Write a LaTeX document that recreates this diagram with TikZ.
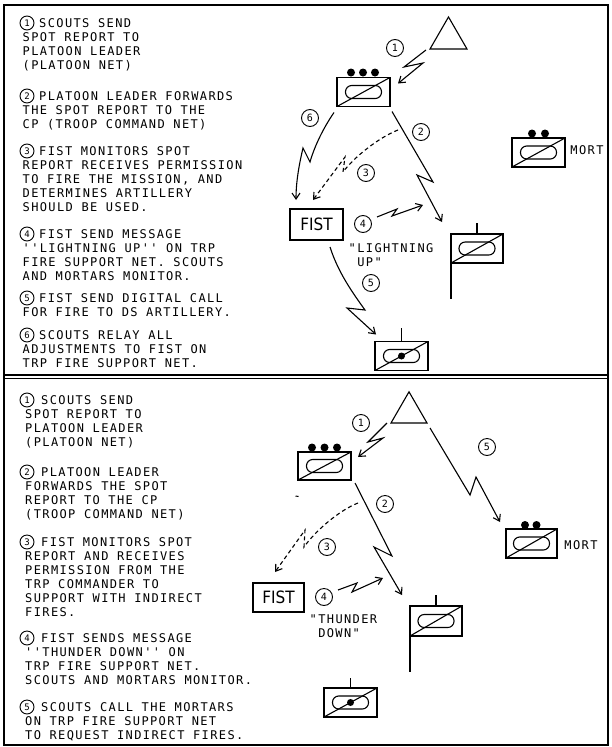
\documentclass[tikz,border=0pt]{standalone}
\usepackage{fontspec}
\setmonofont[LetterSpace=11.5]{DejaVu Sans Mono}
\newfontfamily\fistfont[FakeStretch=0.9]{DejaVu Sans}
\usetikzlibrary{shapes.geometric,arrows.meta,calc}
\tikzset{
  lw/.style={line width=1.1pt},
  symbox/.style={draw, rectangle, line width=1.1pt, minimum width=53pt, minimum height=29pt, inner sep=0pt, outer sep=0pt},
  num/.style={draw, circle, line width=0.9pt, minimum size=17pt, inner sep=0pt, font=\ttfamily\fontsize{10}{10}\selectfont},
  tnum/.style={draw, circle, line width=0.9pt, minimum size=14pt, inner sep=0pt, font=\ttfamily\fontsize{9}{9}\selectfont},
  para/.style={anchor=north west, align=left, inner sep=0pt, font=\ttfamily\fontsize{12}{14}\selectfont},
  lbl/.style={inner sep=0pt, font=\ttfamily\fontsize{12}{12}\selectfont},
  bolt/.style={line width=1.1pt, -{Straight Barb[length=6pt,width=8pt]}, line join=miter},
  dashbolt/.style={bolt, dash pattern=on 4pt off 3pt},
  tri/.style={draw, regular polygon, regular polygon sides=3, inner sep=0pt, outer sep=0pt, line width=1.1pt},
  unitdot/.style={fill, circle, inner sep=0pt, minimum size=8pt},
  fistbox/.style={symbox, font=\fistfont\fontsize{17}{17}\selectfont},
}
\newcommand\unitmark[1]{%
  \draw[lw] (#1.south west) -- (#1.north east);
  \draw[lw, rounded corners=6.2pt] ($(#1.center)+(-18,-6.5)$) rectangle ($(#1.center)+(18,6.5)$);
}
\begin{document}
\begin{tikzpicture}[x=1pt,y=-1pt]
\useasboundingbox (0,0) rectangle (612,747);
\fill[white] (0,0) rectangle (612,747);
\draw[line width=2pt] (4,5) rectangle (608,745);
\draw[line width=2.2pt] (4,375) -- (608,375);
\draw[line width=0.6pt] (4,378.5) -- (608,378.5);

% ---------- top panel text ----------
\node[tnum] (tn1) at (27,23) {1};
\node[para] (tp1) at (22.5,18.5) {\hspace*{16.5pt}SCOUTS SEND\\SPOT REPORT TO\\PLATOON LEADER\\(PLATOON NET)};
\node[tnum] (tn2) at (27,96) {2};
\node[para] (tp2) at (22.5,91.5) {\hspace*{16.5pt}PLATOON LEADER FORWARDS\\THE SPOT REPORT TO THE\\CP (TROOP COMMAND NET)};
\node[tnum] (tn3) at (27,151) {3};
\node[para] (tp3) at (22.5,146.5) {\hspace*{16.5pt}FIST MONITORS SPOT\\REPORT RECEIVES PERMISSION\\TO FIRE THE MISSION, AND\\DETERMINES ARTILLERY\\SHOULD BE USED.};
\node[tnum] (tn4) at (27,234) {4};
\node[para] (tp4) at (22.5,229.5) {\hspace*{16.5pt}FIST SEND MESSAGE\\''LIGHTNING UP'' ON TRP\\FIRE SUPPORT NET. SCOUTS\\AND MORTARS MONITOR.};
\node[tnum] (tn5) at (27,298) {5};
\node[para] (tp5) at (22.5,293.5) {\hspace*{16.5pt}FIST SEND DIGITAL CALL\\FOR FIRE TO DS ARTILLERY.};
\node[tnum] (tn6) at (27,335) {6};
\node[para] (tp6) at (22.5,330.5) {\hspace*{16.5pt}SCOUTS RELAY ALL\\ADJUSTMENTS TO FIST ON\\TRP FIRE SUPPORT NET.};

% ---------- top panel diagram ----------
\node[tri, minimum size=42.7pt] (ttri) at (448.5,38.3) {};
\node[symbox] (tplt) at (363.5,92) {};
\unitmark{tplt}
\node[unitdot] (tpltd1) at (351,72.5) {};
\node[unitdot] (tpltd2) at (363,72.5) {};
\node[unitdot] (tpltd3) at (375,72.5) {};
\node[symbox] (tmort) at (538.5,152.5) {};
\unitmark{tmort}
\node[unitdot] (tmortd1) at (532,133.5) {};
\node[unitdot] (tmortd2) at (545,133.5) {};
\node[lbl] (tmortl) at (587,150) {MORT};
\node[fistbox, minimum height=31pt] (tfist) at (316.5,224.5) {FIST};
\node[symbox, minimum width=52pt] (tflag) at (477,248.5) {};
\unitmark{tflag}
\draw[lw] (tflag.north) -- ++(0,-11);
\draw[lw] (tflag.south west) -- ++(0,36);
\node[symbox] (tart) at (401.5,356) {};
\unitmark{tart}
\draw[lw] (tart.north) -- ++(0,-14);
\node[unitdot, minimum size=7pt] (tartd) at (tart.center) {};

\node[num] (tc1) at (395,48) {1};
\node[num] (tc2) at (421,132) {2};
\node[num] (tc3) at (366,173) {3};
\node[num] (tc4) at (363,224) {4};
\node[num] (tc5) at (371,283) {5};
\node[num] (tc6) at (310,118) {6};
\node[para] (tlight) at (348.5,243.5) {"LIGHTNING\\\hspace*{8.6pt}UP"};

\draw[bolt] ($(ttri.corner 2)+(-4,1)$) -- (404,67) -- (423,63) -- ($(tplt.north east)+(8,6)$);
\draw[bolt] ($(tplt.south east)+(2,5)$) -- (433,182) -- (417,175) -- ($(tflag.north west)+(-9,-12)$);
\coordinate (t3s) at (398,130);
\draw[dashbolt] (t3s) .. controls (380,137) and (355,156) .. (343,172) -- (345,157) -- ($(tfist.north)+(-3.5,-9)$);
\draw[bolt] ($(tplt.south west)+(-3,6)$) .. controls (322,130) and (314,148) .. (310,162) -- (303,148) .. controls (299,165) and (296,182) .. ($(tfist.north west)+(6,-9)$);
\coordinate (t4s) at (377,217);
\coordinate (t4e) at (423,205);
\draw[bolt] (t4s) -- (397,209) -- (392,216) -- (t4e);
\draw[bolt] ($(tfist.south)+(13.5,7)$) .. controls (338,272) and (352,292) .. (365,310) -- (347,308) -- ($(tart.north west)+(1,-7)$);

% ---------- bottom panel text ----------
\node[tnum] (bn1) at (27,400) {1};
\node[para] (bp1) at (25,395.5) {\hspace*{16pt}SCOUTS SEND\\SPOT REPORT TO\\PLATOON LEADER\\(PLATOON NET)};
\node[tnum] (bn2) at (27,472) {2};
\node[para] (bp2) at (25,467.5) {\hspace*{16pt}PLATOON LEADER\\FORWARDS THE SPOT\\REPORT TO THE CP\\(TROOP COMMAND NET)};
\node[tnum] (bn3) at (27,542) {3};
\node[para] (bp3) at (25,537.5) {\hspace*{16pt}FIST MONITORS SPOT\\REPORT AND RECEIVES\\PERMISSION FROM THE\\TRP COMMANDER TO\\SUPPORT WITH INDIRECT\\FIRES.};
\node[tnum] (bn4) at (27,638) {4};
\node[para] (bp4) at (25,633.5) {\hspace*{16pt}FIST SENDS MESSAGE\\''THUNDER DOWN'' ON\\TRP FIRE SUPPORT NET.\\SCOUTS AND MORTARS MONITOR.};
\node[tnum] (bn5) at (27,707) {5};
\node[para] (bp5) at (25,702.5) {\hspace*{16pt}SCOUTS CALL THE MORTARS\\ON TRP FIRE SUPPORT NET\\TO REQUEST INDIRECT FIRES.};

% ---------- bottom panel diagram ----------
\node[tri, minimum size=41.6pt] (btri) at (409,412.6) {};
\node[symbox, minimum height=28pt] (bplt) at (324.5,466) {};
\unitmark{bplt}
\node[unitdot] (bpltd1) at (312,447.5) {};
\node[unitdot] (bpltd2) at (324.5,447.5) {};
\node[unitdot] (bpltd3) at (337,447.5) {};
\node[symbox, minimum width=51pt] (bmort) at (531.5,543.5) {};
\unitmark{bmort}
\node[unitdot] (bmortd1) at (525,525) {};
\node[unitdot] (bmortd2) at (536.5,525) {};
\node[lbl] (bmortl) at (581,545) {MORT};
\node[fistbox, minimum width=51pt] (bfist) at (278.5,597.5) {FIST};
\node[symbox, minimum width=52pt, minimum height=30pt] (bflag) at (436,621) {};
\unitmark{bflag}
\draw[lw] (bflag.north) -- ++(0,-11);
\draw[lw] (bflag.south west) -- ++(0,36);
\node[symbox] (bart) at (350.5,702.5) {};
\unitmark{bart}
\draw[lw] (bart.north) -- ++(0,-10);
\node[unitdot, minimum size=7pt] (bartd) at (bart.center) {};

\node[num] (bc1) at (361,423) {1};
\node[num] (bc2) at (385,504) {2};
\node[num] (bc3) at (327,547) {3};
\node[num] (bc4) at (324,597) {4};
\node[num] (bc5) at (487,447) {5};
\node[para] (bthunder) at (309.5,614.5) {"THUNDER\\\hspace*{8.6pt}DOWN"};

\draw[bolt] ($(btri.corner 2)+(-4,0)$) -- (368,442) -- (383,438) -- ($(bplt.north east)+(7,5)$);
\draw[bolt] ($(btri.corner 3)+(3,5)$) -- (470,495) -- (476,477) -- ($(bmort.north west)+(-6,-7)$);
\draw[bolt] ($(bplt.south east)+(4,3)$) -- (392,556) -- (374,547) -- ($(bflag.north west)+(-8,-11)$);
\coordinate (b3s) at (358,503);
\draw[dashbolt] (b3s) .. controls (340,510) and (316,530) .. (304,547) -- (305,530) -- ($(bfist.north)+(-3.5,-11)$);
\coordinate (b4s) at (338,590);
\coordinate (b4e) at (383,578);
\draw[bolt] (b4s) -- (357,583) -- (352,592) -- (b4e);
\draw[line width=1pt] (295.5,496) -- (298.5,496.5);
\end{tikzpicture}
\end{document}
